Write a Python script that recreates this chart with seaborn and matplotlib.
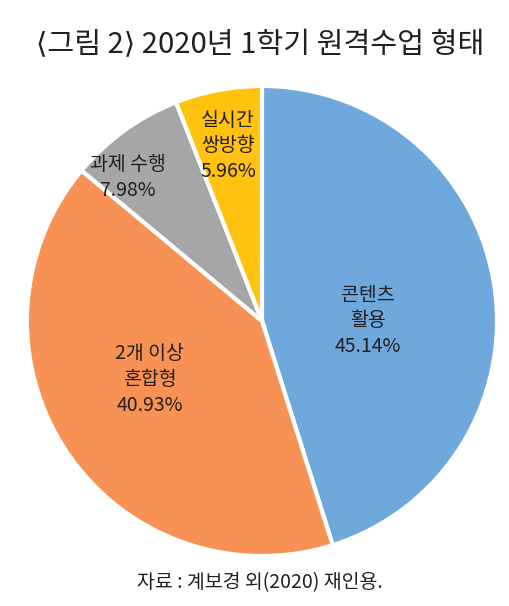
import matplotlib
matplotlib.use("Agg")
import matplotlib.pyplot as plt
import seaborn as sns

sns.set_theme(style="white")
plt.rcParams['font.family'] = ['Noto Sans CJK KR', 'DejaVu Sans']

# 2020년 1학기 원격수업 형태 비율 (%)
categories = ["콘텐츠\n활용", "2개 이상\n혼합형", "과제 수행", "실시간\n쌍방향"]
shares = [45.14, 40.93, 7.98, 5.96]
colors = ["#6FA8DC", "#F79154", "#A6A6A9", "#FFC20E"]

title = "\u27e8그림 2\u27e9 2020년 1학기 원격수업 형태"
source = "자료 : 계보경 외(2020) 재인용."

fig = plt.figure(figsize=(5.10, 6.06), dpi=100)
ax = fig.add_axes([0.0529, 0.0825, 0.9216, 0.7756])

wedges, _ = ax.pie(
    shares, colors=colors, startangle=90, counterclock=False,
    radius=1.0, wedgeprops=dict(edgecolor="white", linewidth=3),
)
ax.set_aspect("equal")
ax.set_xlim(-1, 1)
ax.set_ylim(-1, 1)

label_pos = [(0.45, 0.0), (-0.477, -0.25), (-0.57, 0.61), (-0.145, 0.745)]
for name, val, (x, y) in zip(categories, shares, label_pos):
    ax.text(x, y, f"{name}\n{val:.2f}%", ha="center", va="center",
            fontsize=14, color="#231f20", linespacing=1.3)

fig.text(0.511, 1 - 45 / 606, title, ha="center", va="center",
         fontsize=21, color="#231f20")
fig.text(0.51, 1 - 583 / 606, source, ha="center", va="center",
         fontsize=14, color="#231f20")

fig.savefig("out.png", dpi=100, facecolor="white")
